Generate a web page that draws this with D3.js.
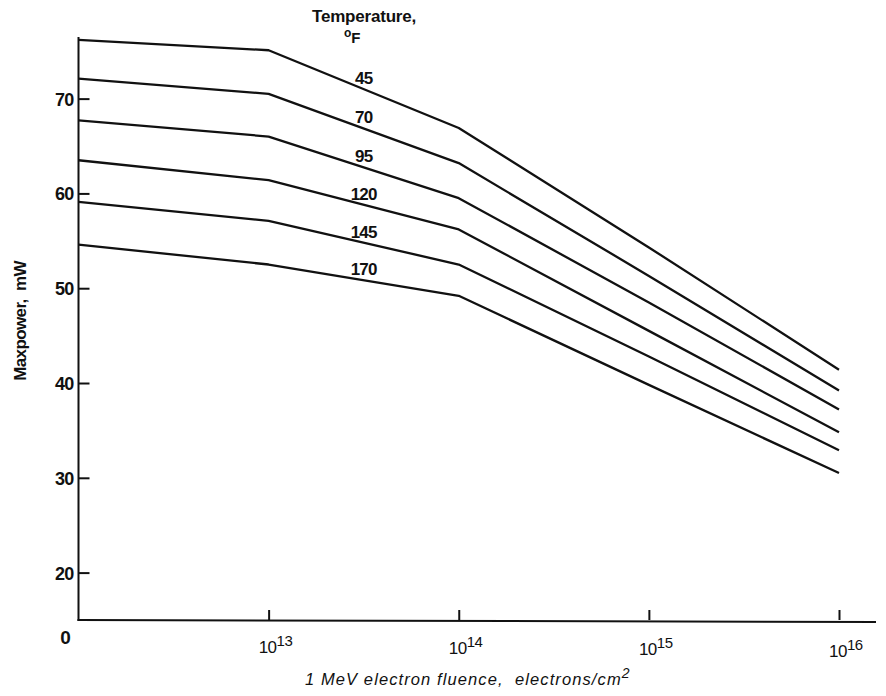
<!DOCTYPE html>
<html>
<head>
<meta charset="utf-8">
<script src="https://cdn.jsdelivr.net/npm/d3@7/dist/d3.min.js"></script>
<style>
  html, body { margin: 0; padding: 0; background: #fff; }
  svg { display: block; }
  text { font-family: "Liberation Sans", Arial, sans-serif; fill: #111; }
</style>
</head>
<body>
<script>
// Fluence points; the leftmost one is the "0" position on the log axis.
const fluence = [1e12, 1e13, 1e14, 1e15, 1e16];
const fluenceTicks = [1e12, 1e13, 1e14, 1e15, 1e16];
const fluenceTickLabels = ["0", "13", "14", "15", "16"];
const powerTicks = [20, 30, 40, 50, 60, 70];

// Maximum power (mW) for each cell temperature (°F)
const temperatures = [45, 70, 95, 120, 145, 170];
const power45  = [76.2, 75.1, 66.9, 54.3, 41.4];
const power70  = [72.1, 70.5, 63.2, 51.3, 39.2];
const power95  = [67.7, 66.0, 59.5, 48.5, 37.2];
const power120 = [63.5, 61.4, 56.2, 45.5, 34.8];
const power145 = [59.1, 57.1, 52.5, 42.8, 32.9];
const power170 = [54.6, 52.5, 49.2, 39.8, 30.5];
const powerSeries = [power45, power70, power95, power120, power145, power170];

const W = 886, H = 696;
const svg = d3.select("body").append("svg").attr("width", W).attr("height", H);

const x = d3.scaleLog().domain([1e12, 1e16]).range([78.5, 839]);
const y = d3.scaleLinear().domain([15, 76.5]).range([620, 37]);

// Y axis: ticks point inward
const yAxis = d3.axisLeft(y).tickValues(powerTicks).tickSizeInner(-11).tickSizeOuter(0).tickPadding(5);
const gy = svg.append("g").attr("transform", `translate(${x(1e12)},0)`).call(yAxis);
gy.select(".domain").remove();
gy.selectAll(".tick line").attr("stroke", "#111").attr("stroke-width", 2);
gy.selectAll(".tick text").attr("font-size", 18).attr("font-weight", "bold").attr("fill", "#111")
  .attr("dy", "0.36em").style("letter-spacing", "-0.8px")
  .style("font-family", "'Liberation Sans', Arial, sans-serif");

svg.append("line")
  .attr("x1", x(1e12)).attr("x2", x(1e12))
  .attr("y1", y(76.5)).attr("y2", y(15) + 1)
  .attr("stroke", "#111").attr("stroke-width", 2);

// X axis: ticks point upward
const xAxis = d3.axisBottom(x).tickValues(fluenceTicks.slice(1)).tickSizeInner(-10).tickSizeOuter(0).tickFormat("");
const gx = svg.append("g").attr("transform", `translate(0,${y(15)})`).call(xAxis);
gx.select(".domain").remove();
gx.selectAll(".tick line").attr("stroke", "#111").attr("stroke-width", 2);

svg.append("line")
  .attr("x1", x(1e12) - 1).attr("x2", 876)
  .attr("y1", y(15)).attr("y2", y(15) + 2)
  .attr("stroke", "#111").attr("stroke-width", 2);

// X tick labels: 0 and powers of ten
fluenceTicks.forEach((v, i) => {
  if (i === 0) {
    svg.append("text").attr("x", x(v) - 13).attr("y", 644)
      .attr("text-anchor", "middle").attr("font-size", 19).attr("font-weight", "bold").text(fluenceTickLabels[i]);
  } else {
    const t = svg.append("text").attr("x", x(v) - 10).attr("y", 653 + (i - 1) * 1.2)
      .attr("font-size", 17).style("letter-spacing", "-0.5px");
    t.append("tspan").text("10");
    t.append("tspan").attr("font-size", 15).attr("dy", -7).text(fluenceTickLabels[i]);
  }
});

// Axis titles
const xt = svg.append("text").attr("x", 305).attr("y", 685)
  .attr("font-size", 16.5).attr("font-style", "italic")
  .style("letter-spacing", "1.1px").style("white-space", "pre");
xt.append("tspan").text("1 MeV electron fluence,  electrons/cm");
xt.append("tspan").attr("font-size", 14).attr("dy", -7).text("2");

svg.append("text")
  .attr("transform", `translate(26,${321}) rotate(-90)`)
  .attr("text-anchor", "middle").attr("font-size", 17).attr("font-weight", "bold")
  .style("white-space", "pre").style("letter-spacing", "-0.6px")
  .text("Maxpower,  mW");

// Curves
const line = d3.line().x((d, i) => x(fluence[i])).y(d => y(d));
svg.append("g").selectAll("path").data(powerSeries).join("path")
  .attr("d", d => line(d))
  .attr("fill", "none").attr("stroke", "#111").attr("stroke-width", 2.3)
  .attr("stroke-linejoin", "round");

// Temperature labels sitting on each curve
const labelAt = Math.pow(10, 13.5);
const interp = (s, v) => {
  const lv = Math.log10(v);
  const i = Math.floor(lv) - 12;
  const f = lv - Math.floor(lv);
  return s[i] + (s[i + 1] - s[i]) * f;
};
svg.append("g").selectAll("text").data(powerSeries).join("text")
  .attr("x", x(labelAt))
  .attr("y", d => y(interp(d, labelAt)) - 5)
  .attr("text-anchor", "middle").attr("font-size", 17).attr("font-weight", "bold")
  .style("letter-spacing", "-0.8px")
  .text((d, i) => temperatures[i]);

// Legend heading
svg.append("text").attr("x", 364).attr("y", 22).attr("text-anchor", "middle")
  .attr("font-size", 17).attr("font-weight", "bold").style("letter-spacing", "-0.2px").text("Temperature,");
const deg = svg.append("text").attr("x", 344).attr("y", 43).attr("font-size", 15).attr("font-weight", "bold");
deg.append("tspan").attr("font-size", 12).attr("dy", -6).text("o");
deg.append("tspan").attr("dy", 6).text("F");
</script>
</body>
</html>
